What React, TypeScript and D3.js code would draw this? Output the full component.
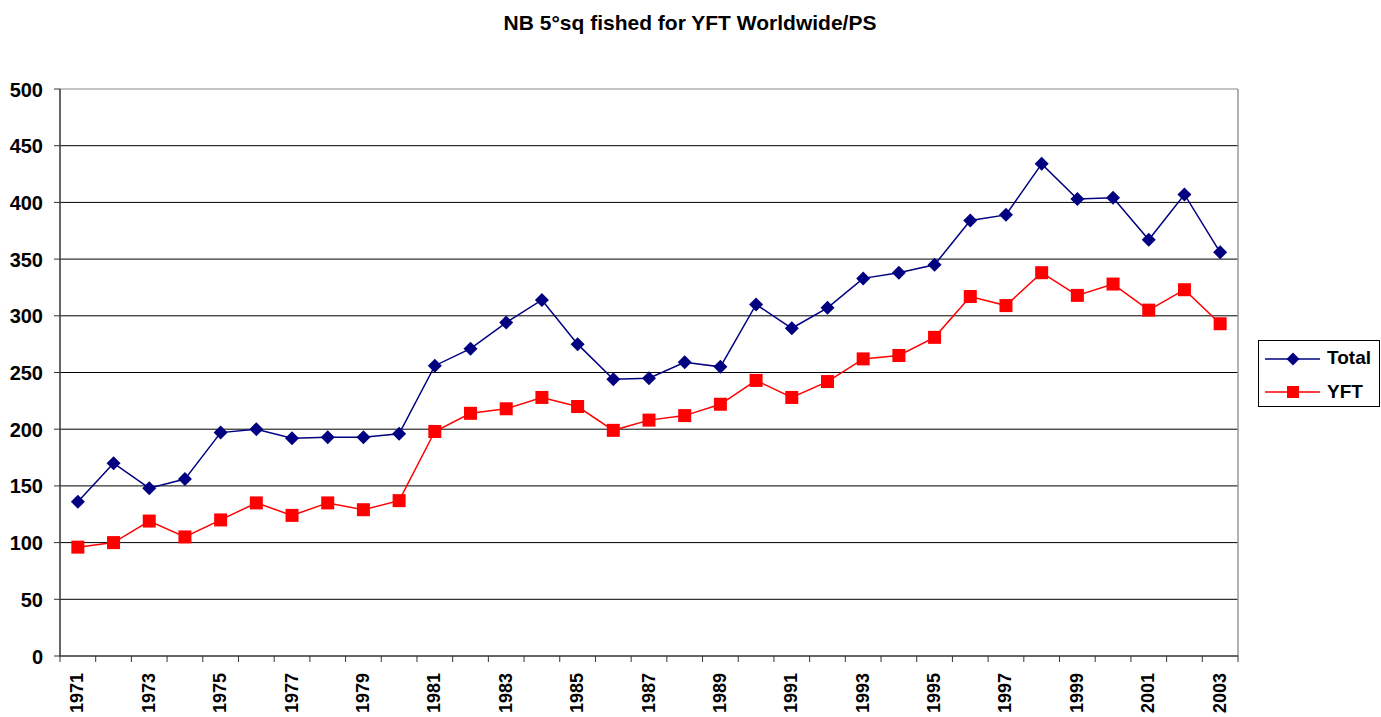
import React from "react";
import * as d3 from "d3";

const years: number[] = d3.range(1971, 2004);
const totalValues: number[] = [136, 170, 148, 156, 197, 200, 192, 193, 193, 196, 256, 271, 294, 314, 275, 244, 245, 259, 255, 310, 289, 307, 333, 338, 345, 384, 389, 434, 403, 404, 367, 407, 356];
const yftValues: number[] = [96, 100, 119, 105, 120, 135, 124, 135, 129, 137, 198, 214, 218, 228, 220, 199, 208, 212, 222, 243, 228, 242, 262, 265, 281, 317, 309, 338, 318, 328, 305, 323, 293];
const yTicks: number[] = [0, 50, 100, 150, 200, 250, 300, 350, 400, 450, 500];
const title = "NB 5°sq fished for YFT Worldwide/PS";
const seriesNames = ["Total", "YFT"];

const W = 1381, H = 717;
const L = 60, R = 1238, T = 89, B = 656;
const FONT = "Liberation Sans, Arial, sans-serif";

export default function App() {
  const x = d3.scaleBand<number>().domain(years).range([L, R]).padding(0);
  const y = d3.scaleLinear().domain([0, 500]).range([B, T]);
  const cx = (yr: number) => (x(yr) as number) + x.bandwidth() / 2;
  const line = d3.line<[number, number]>().x(d => cx(d[0])).y(d => y(d[1]));
  const totalPts = years.map((yr, i) => [yr, totalValues[i]] as [number, number]);
  const yftPts = years.map((yr, i) => [yr, yftValues[i]] as [number, number]);
  const diamond = (px: number, py: number, r = 7) => `M${px},${py - r}L${px + r},${py}L${px},${py + r}L${px - r},${py}Z`;
  const boundaries = years.map(yr => x(yr) as number).concat([R]);

  return (
    <svg width={W} height={H} style={{ position: "absolute", left: 0, top: 0, background: "#fff" }} fontFamily={FONT}>
      <rect x={0} y={0} width={W} height={H} fill="#fff" />
      <text x={690} y={30} textAnchor="middle" fontSize={21} fontWeight="bold">{title}</text>
      {yTicks.map(t => (
        <g key={t}>
          {t > 0 && <line x1={L} x2={R} y1={y(t)} y2={y(t)} stroke={t === 500 ? "#888" : "#000"} strokeWidth={1} />}
          <line x1={L - 6} x2={L} y1={y(t)} y2={y(t)} stroke="#333" />
          <text x={43} y={y(t) + 7.5} textAnchor="end" fontSize={20} fontWeight="bold">{t}</text>
        </g>
      ))}
      <line x1={R} x2={R} y1={T} y2={B} stroke="#999" strokeWidth={1.5} />
      <line x1={L} x2={L} y1={T} y2={B + 0.5} stroke="#333" strokeWidth={1.5} />
      <line x1={L} x2={R} y1={B} y2={B} stroke="#333" strokeWidth={1.5} />
      {boundaries.map((bx, i) => (
        <line key={i} x1={bx} x2={bx} y1={B} y2={B + 6} stroke="#333" />
      ))}
      {years.filter((_, i) => i % 2 === 0).map(yr => (
        <text key={yr} transform={`translate(${cx(yr) + 5.5},${673}) rotate(-90)`} textAnchor="end" fontSize={18} fontWeight="bold">{yr}</text>
      ))}
      <path d={line(totalPts) || ""} fill="none" stroke="#000080" strokeWidth={1.5} />
      <path d={line(yftPts) || ""} fill="none" stroke="#ff0000" strokeWidth={1.5} />
      {totalPts.map(([yr, v]) => (
        <path key={yr} d={diamond(cx(yr), y(v))} fill="#000080" />
      ))}
      {yftPts.map(([yr, v]) => (
        <rect key={yr} x={cx(yr) - 6.5} y={y(v) - 6.5} width={13} height={13} fill="#ff0000" />
      ))}
      <rect x={1258.5} y={340.5} width={121} height={66} fill="#fff" stroke="#000" />
      <line x1={1265} x2={1320} y1={359} y2={359} stroke="#000080" strokeWidth={1.5} />
      <path d={diamond(1293, 359, 6.5)} fill="#000080" />
      <text x={1327} y={364} fontSize={19} fontWeight="bold">{seriesNames[0]}</text>
      <line x1={1265} x2={1320} y1={392} y2={392} stroke="#ff0000" strokeWidth={1.5} />
      <rect x={1287} y={386} width={12} height={12} fill="#ff0000" />
      <text x={1327} y={398} fontSize={19} fontWeight="bold">{seriesNames[1]}</text>
    </svg>
  );
}
